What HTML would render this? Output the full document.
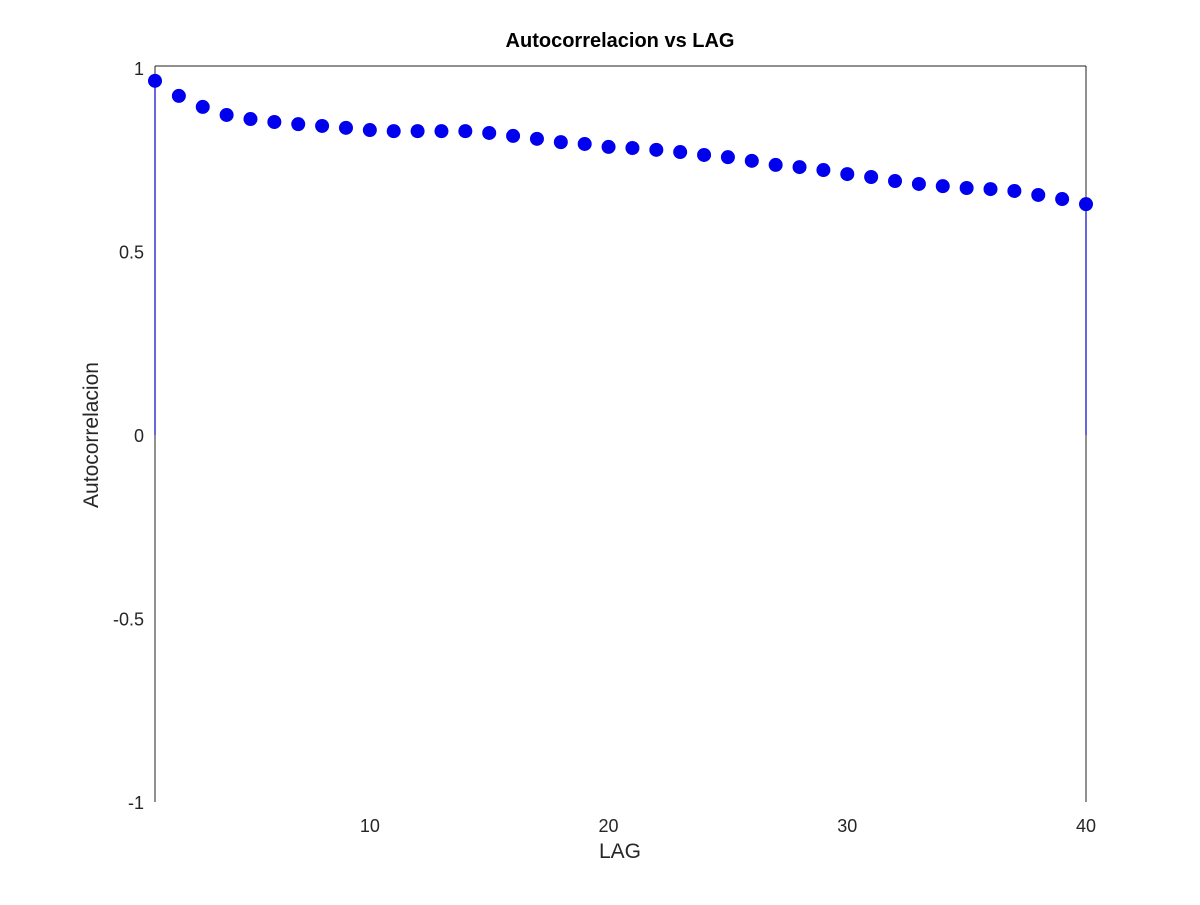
<!DOCTYPE html>
<html><head><meta charset="utf-8"><style>
body{margin:0;background:#fff}
svg text{font-family:"Liberation Sans",sans-serif}
</style></head><body>
<svg id="chart" width="1200" height="900">
<rect width="1200" height="900" fill="#fff"/>
<text x="620" y="47" font-size="20" font-weight="bold" text-anchor="middle">Autocorrelacion vs LAG</text>
<line x1="155" y1="66" x2="1086" y2="66" stroke="#222" stroke-width="1"/>
<line x1="155" y1="66" x2="155" y2="802" stroke="#222" stroke-width="1"/>
<line x1="1086" y1="66" x2="1086" y2="802" stroke="#222" stroke-width="1"/>
<text x="620" y="858" font-size="21" text-anchor="middle" fill="#262626">LAG</text>
<text transform="translate(98,435) rotate(-90)" font-size="21" text-anchor="middle" fill="#262626">Autocorrelacion</text>
<g id="ticks"></g>
<g id="marks"></g>
</svg>
<script>
const lags=[];for(let i=1;i<=40;i++)lags.push(i);
const acf=[0.965,0.924,0.894,0.872,0.861,0.853,0.847,0.842,0.837,0.831,0.828,0.828,0.828,0.828,0.823,0.815,0.807,0.798,0.793,0.785,0.782,0.777,0.771,0.763,0.757,0.747,0.736,0.730,0.722,0.711,0.703,0.692,0.684,0.678,0.673,0.670,0.665,0.654,0.643,0.629];
const xTicks=[10,20,30,40];
const yTicks=[-1,-0.5,0,0.5,1];
const yTickLabels=["-1","-0.5","0","0.5","1"];
const NS="http://www.w3.org/2000/svg";
const xs=v=>155+(v-1)*(1086-155)/39;
const ys=v=>435-v*367;
const tg=document.getElementById('ticks'),mg=document.getElementById('marks');
xTicks.forEach(t=>{const e=document.createElementNS(NS,'text');


e.setAttribute('x',xs(t));e.setAttribute('y',832);e.setAttribute('font-size','18');e.setAttribute('text-anchor','middle');e.setAttribute('fill','#262626');e.textContent=t;tg.appendChild(e);});
yTicks.forEach((t,i)=>{const e=document.createElementNS(NS,'text');


e.setAttribute('x',144);e.setAttribute('y',ys(t)+7);e.setAttribute('font-size','18');e.setAttribute('text-anchor','end');e.setAttribute('fill','#262626');e.textContent=yTickLabels[i];tg.appendChild(e);});
lags.forEach((l,i)=>{
 if(i===0||i===lags.length-1){const s=document.createElementNS(NS,'line');
 
 
 s.setAttribute('x1',xs(l));s.setAttribute('x2',xs(l));s.setAttribute('y1',ys(0));s.setAttribute('y2',ys(acf[i]));s.setAttribute('stroke','#0000c8');s.setAttribute('stroke-width','1.2');mg.appendChild(s);}
 const c=document.createElementNS(NS,'circle');
 
 
 c.setAttribute('cx',xs(l));c.setAttribute('cy',ys(acf[i]));c.setAttribute('r','7');c.setAttribute('fill','#0000ee');mg.appendChild(c);});
</script>
</body></html>
